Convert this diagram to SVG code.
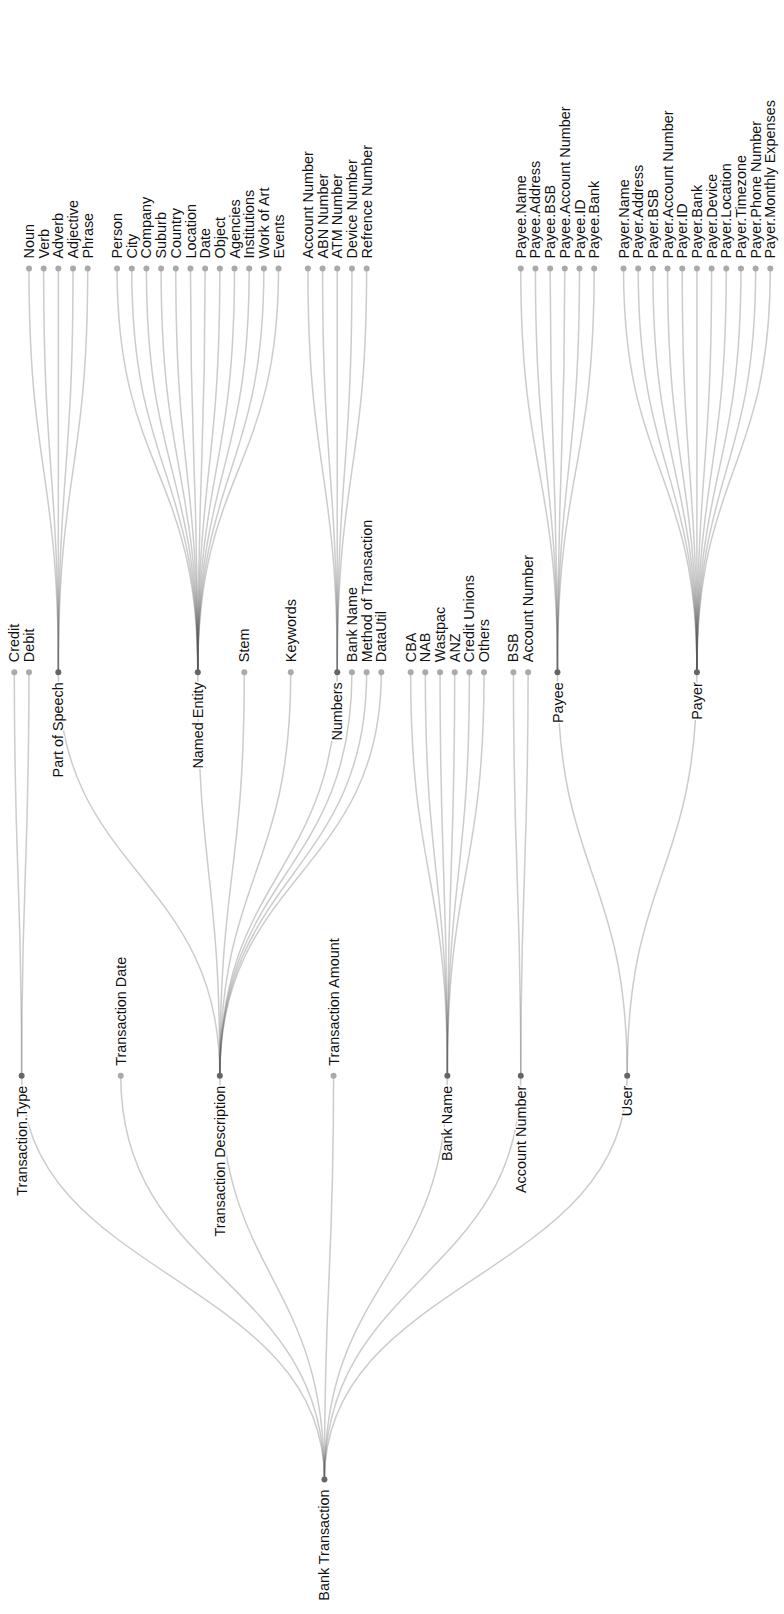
<svg xmlns="http://www.w3.org/2000/svg" width="784" height="1614" viewBox="0 0 784 1614">
<style>
.link{fill:none;stroke:#555;stroke-opacity:0.3;stroke-width:1.5}
.node circle{r:3px}
.internal circle{fill:#666}
.leaf circle{fill:#aaa}
.node text{font-family:"Liberation Sans",Arial,sans-serif;font-size:14.4px;fill:#111;stroke:#fff;stroke-width:3px;stroke-linejoin:round;paint-order:stroke}
.leaf text{text-anchor:start}
.internal text{text-anchor:end}
</style>
<rect width="784" height="1614" fill="#fff"/>
<g id="connectors">
<path class="link" d="M324.42,1479.5C324.42,1277.65 21.64,1277.65 21.64,1075.8"/>
<path class="link" d="M324.42,1479.5C324.42,1277.65 120.73,1277.65 120.73,1075.8"/>
<path class="link" d="M324.42,1479.5C324.42,1277.65 219.82,1277.65 219.82,1075.8"/>
<path class="link" d="M324.42,1479.5C324.42,1277.65 333.59,1277.65 333.59,1075.8"/>
<path class="link" d="M324.42,1479.5C324.42,1277.65 447.36,1277.65 447.36,1075.8"/>
<path class="link" d="M324.42,1479.5C324.42,1277.65 520.76,1277.65 520.76,1075.8"/>
<path class="link" d="M324.42,1479.5C324.42,1277.65 627.19,1277.65 627.19,1075.8"/>
<path class="link" d="M21.64,1075.8C21.64,874 14.3,874 14.3,672.2"/>
<path class="link" d="M21.64,1075.8C21.64,874 28.98,874 28.98,672.2"/>
<path class="link" d="M219.82,1075.8C219.82,874 58.34,874 58.34,672.2"/>
<path class="link" d="M219.82,1075.8C219.82,874 197.8,874 197.8,672.2"/>
<path class="link" d="M219.82,1075.8C219.82,874 244.29,874 244.29,672.2"/>
<path class="link" d="M219.82,1075.8C219.82,874 290.77,874 290.77,672.2"/>
<path class="link" d="M219.82,1075.8C219.82,874 337.26,874 337.26,672.2"/>
<path class="link" d="M219.82,1075.8C219.82,874 351.94,874 351.94,672.2"/>
<path class="link" d="M219.82,1075.8C219.82,874 366.62,874 366.62,672.2"/>
<path class="link" d="M219.82,1075.8C219.82,874 381.3,874 381.3,672.2"/>
<path class="link" d="M447.36,1075.8C447.36,874 410.66,874 410.66,672.2"/>
<path class="link" d="M447.36,1075.8C447.36,874 425.34,874 425.34,672.2"/>
<path class="link" d="M447.36,1075.8C447.36,874 440.02,874 440.02,672.2"/>
<path class="link" d="M447.36,1075.8C447.36,874 454.7,874 454.7,672.2"/>
<path class="link" d="M447.36,1075.8C447.36,874 469.38,874 469.38,672.2"/>
<path class="link" d="M447.36,1075.8C447.36,874 484.06,874 484.06,672.2"/>
<path class="link" d="M520.76,1075.8C520.76,874 513.42,874 513.42,672.2"/>
<path class="link" d="M520.76,1075.8C520.76,874 528.1,874 528.1,672.2"/>
<path class="link" d="M627.19,1075.8C627.19,874 557.46,874 557.46,672.2"/>
<path class="link" d="M627.19,1075.8C627.19,874 696.92,874 696.92,672.2"/>
<path class="link" d="M58.34,672.2C58.34,470.35 28.98,470.35 28.98,268.5"/>
<path class="link" d="M58.34,672.2C58.34,470.35 43.66,470.35 43.66,268.5"/>
<path class="link" d="M58.34,672.2C58.34,470.35 58.34,470.35 58.34,268.5"/>
<path class="link" d="M58.34,672.2C58.34,470.35 73.02,470.35 73.02,268.5"/>
<path class="link" d="M58.34,672.2C58.34,470.35 87.7,470.35 87.7,268.5"/>
<path class="link" d="M197.8,672.2C197.8,470.35 117.06,470.35 117.06,268.5"/>
<path class="link" d="M197.8,672.2C197.8,470.35 131.74,470.35 131.74,268.5"/>
<path class="link" d="M197.8,672.2C197.8,470.35 146.42,470.35 146.42,268.5"/>
<path class="link" d="M197.8,672.2C197.8,470.35 161.1,470.35 161.1,268.5"/>
<path class="link" d="M197.8,672.2C197.8,470.35 175.78,470.35 175.78,268.5"/>
<path class="link" d="M197.8,672.2C197.8,470.35 190.46,470.35 190.46,268.5"/>
<path class="link" d="M197.8,672.2C197.8,470.35 205.14,470.35 205.14,268.5"/>
<path class="link" d="M197.8,672.2C197.8,470.35 219.82,470.35 219.82,268.5"/>
<path class="link" d="M197.8,672.2C197.8,470.35 234.5,470.35 234.5,268.5"/>
<path class="link" d="M197.8,672.2C197.8,470.35 249.18,470.35 249.18,268.5"/>
<path class="link" d="M197.8,672.2C197.8,470.35 263.86,470.35 263.86,268.5"/>
<path class="link" d="M197.8,672.2C197.8,470.35 278.54,470.35 278.54,268.5"/>
<path class="link" d="M337.26,672.2C337.26,470.35 307.9,470.35 307.9,268.5"/>
<path class="link" d="M337.26,672.2C337.26,470.35 322.58,470.35 322.58,268.5"/>
<path class="link" d="M337.26,672.2C337.26,470.35 337.26,470.35 337.26,268.5"/>
<path class="link" d="M337.26,672.2C337.26,470.35 351.94,470.35 351.94,268.5"/>
<path class="link" d="M337.26,672.2C337.26,470.35 366.62,470.35 366.62,268.5"/>
<path class="link" d="M557.46,672.2C557.46,470.35 520.76,470.35 520.76,268.5"/>
<path class="link" d="M557.46,672.2C557.46,470.35 535.44,470.35 535.44,268.5"/>
<path class="link" d="M557.46,672.2C557.46,470.35 550.12,470.35 550.12,268.5"/>
<path class="link" d="M557.46,672.2C557.46,470.35 564.8,470.35 564.8,268.5"/>
<path class="link" d="M557.46,672.2C557.46,470.35 579.48,470.35 579.48,268.5"/>
<path class="link" d="M557.46,672.2C557.46,470.35 594.16,470.35 594.16,268.5"/>
<path class="link" d="M696.92,672.2C696.92,470.35 623.52,470.35 623.52,268.5"/>
<path class="link" d="M696.92,672.2C696.92,470.35 638.2,470.35 638.2,268.5"/>
<path class="link" d="M696.92,672.2C696.92,470.35 652.88,470.35 652.88,268.5"/>
<path class="link" d="M696.92,672.2C696.92,470.35 667.56,470.35 667.56,268.5"/>
<path class="link" d="M696.92,672.2C696.92,470.35 682.24,470.35 682.24,268.5"/>
<path class="link" d="M696.92,672.2C696.92,470.35 696.92,470.35 696.92,268.5"/>
<path class="link" d="M696.92,672.2C696.92,470.35 711.6,470.35 711.6,268.5"/>
<path class="link" d="M696.92,672.2C696.92,470.35 726.28,470.35 726.28,268.5"/>
<path class="link" d="M696.92,672.2C696.92,470.35 740.96,470.35 740.96,268.5"/>
<path class="link" d="M696.92,672.2C696.92,470.35 755.64,470.35 755.64,268.5"/>
<path class="link" d="M696.92,672.2C696.92,470.35 770.32,470.35 770.32,268.5"/>
</g>
<g id="nodes">
<g id="n-bank-transaction" class="node internal" transform="translate(324.42,1479.5)"><circle r="3"/><text x="-10" dy="0.35em" transform="rotate(-90)">Bank Transaction</text></g>
<g id="n-transaction-type" class="node internal" transform="translate(21.64,1075.8)"><circle r="3"/><text x="-10" dy="0.35em" transform="rotate(-90)">Transaction.Type</text></g>
<g id="n-transaction-date" class="node leaf" transform="translate(120.73,1075.8)"><circle r="3"/><text x="10" dy="0.35em" transform="rotate(-90)">Transaction Date</text></g>
<g id="n-transaction-description" class="node internal" transform="translate(219.82,1075.8)"><circle r="3"/><text x="-10" dy="0.35em" transform="rotate(-90)">Transaction Description</text></g>
<g id="n-transaction-amount" class="node leaf" transform="translate(333.59,1075.8)"><circle r="3"/><text x="10" dy="0.35em" transform="rotate(-90)">Transaction Amount</text></g>
<g id="n-bank-name" class="node internal" transform="translate(447.36,1075.8)"><circle r="3"/><text x="-10" dy="0.35em" transform="rotate(-90)">Bank Name</text></g>
<g id="n-account-number" class="node internal" transform="translate(520.76,1075.8)"><circle r="3"/><text x="-10" dy="0.35em" transform="rotate(-90)">Account Number</text></g>
<g id="n-user" class="node internal" transform="translate(627.19,1075.8)"><circle r="3"/><text x="-10" dy="0.35em" transform="rotate(-90)">User</text></g>
<g id="n-credit" class="node leaf" transform="translate(14.3,672.2)"><circle r="3"/><text x="10" dy="0.35em" transform="rotate(-90)">Credit</text></g>
<g id="n-debit" class="node leaf" transform="translate(28.98,672.2)"><circle r="3"/><text x="10" dy="0.35em" transform="rotate(-90)">Debit</text></g>
<g id="n-part-of-speech" class="node internal" transform="translate(58.34,672.2)"><circle r="3"/><text x="-10" dy="0.35em" transform="rotate(-90)">Part of Speech</text></g>
<g id="n-named-entity" class="node internal" transform="translate(197.8,672.2)"><circle r="3"/><text x="-10" dy="0.35em" transform="rotate(-90)">Named Entity</text></g>
<g id="n-stem" class="node leaf" transform="translate(244.29,672.2)"><circle r="3"/><text x="10" dy="0.35em" transform="rotate(-90)">Stem</text></g>
<g id="n-keywords" class="node leaf" transform="translate(290.77,672.2)"><circle r="3"/><text x="10" dy="0.35em" transform="rotate(-90)">Keywords</text></g>
<g id="n-numbers" class="node internal" transform="translate(337.26,672.2)"><circle r="3"/><text x="-10" dy="0.35em" transform="rotate(-90)">Numbers</text></g>
<g id="n-desc-bank-name" class="node leaf" transform="translate(351.94,672.2)"><circle r="3"/><text x="10" dy="0.35em" transform="rotate(-90)">Bank Name</text></g>
<g id="n-method-of-transaction" class="node leaf" transform="translate(366.62,672.2)"><circle r="3"/><text x="10" dy="0.35em" transform="rotate(-90)">Method of Transaction</text></g>
<g id="n-datautil" class="node leaf" transform="translate(381.3,672.2)"><circle r="3"/><text x="10" dy="0.35em" transform="rotate(-90)">DataUtil</text></g>
<g id="n-cba" class="node leaf" transform="translate(410.66,672.2)"><circle r="3"/><text x="10" dy="0.35em" transform="rotate(-90)">CBA</text></g>
<g id="n-nab" class="node leaf" transform="translate(425.34,672.2)"><circle r="3"/><text x="10" dy="0.35em" transform="rotate(-90)">NAB</text></g>
<g id="n-wastpac" class="node leaf" transform="translate(440.02,672.2)"><circle r="3"/><text x="10" dy="0.35em" transform="rotate(-90)">Wastpac</text></g>
<g id="n-anz" class="node leaf" transform="translate(454.7,672.2)"><circle r="3"/><text x="10" dy="0.35em" transform="rotate(-90)">ANZ</text></g>
<g id="n-credit-unions" class="node leaf" transform="translate(469.38,672.2)"><circle r="3"/><text x="10" dy="0.35em" transform="rotate(-90)">Credit Unions</text></g>
<g id="n-others" class="node leaf" transform="translate(484.06,672.2)"><circle r="3"/><text x="10" dy="0.35em" transform="rotate(-90)">Others</text></g>
<g id="n-bsb" class="node leaf" transform="translate(513.42,672.2)"><circle r="3"/><text x="10" dy="0.35em" transform="rotate(-90)">BSB</text></g>
<g id="n-acct-account-number" class="node leaf" transform="translate(528.1,672.2)"><circle r="3"/><text x="10" dy="0.35em" transform="rotate(-90)">Account Number</text></g>
<g id="n-payee" class="node internal" transform="translate(557.46,672.2)"><circle r="3"/><text x="-10" dy="0.35em" transform="rotate(-90)">Payee</text></g>
<g id="n-payer" class="node internal" transform="translate(696.92,672.2)"><circle r="3"/><text x="-10" dy="0.35em" transform="rotate(-90)">Payer</text></g>
<g id="n-noun" class="node leaf" transform="translate(28.98,268.5)"><circle r="3"/><text x="10" dy="0.35em" transform="rotate(-90)">Noun</text></g>
<g id="n-verb" class="node leaf" transform="translate(43.66,268.5)"><circle r="3"/><text x="10" dy="0.35em" transform="rotate(-90)">Verb</text></g>
<g id="n-adverb" class="node leaf" transform="translate(58.34,268.5)"><circle r="3"/><text x="10" dy="0.35em" transform="rotate(-90)">Adverb</text></g>
<g id="n-adjective" class="node leaf" transform="translate(73.02,268.5)"><circle r="3"/><text x="10" dy="0.35em" transform="rotate(-90)">Adjective</text></g>
<g id="n-phrase" class="node leaf" transform="translate(87.7,268.5)"><circle r="3"/><text x="10" dy="0.35em" transform="rotate(-90)">Phrase</text></g>
<g id="n-person" class="node leaf" transform="translate(117.06,268.5)"><circle r="3"/><text x="10" dy="0.35em" transform="rotate(-90)">Person</text></g>
<g id="n-city" class="node leaf" transform="translate(131.74,268.5)"><circle r="3"/><text x="10" dy="0.35em" transform="rotate(-90)">City</text></g>
<g id="n-company" class="node leaf" transform="translate(146.42,268.5)"><circle r="3"/><text x="10" dy="0.35em" transform="rotate(-90)">Company</text></g>
<g id="n-suburb" class="node leaf" transform="translate(161.1,268.5)"><circle r="3"/><text x="10" dy="0.35em" transform="rotate(-90)">Suburb</text></g>
<g id="n-country" class="node leaf" transform="translate(175.78,268.5)"><circle r="3"/><text x="10" dy="0.35em" transform="rotate(-90)">Country</text></g>
<g id="n-location" class="node leaf" transform="translate(190.46,268.5)"><circle r="3"/><text x="10" dy="0.35em" transform="rotate(-90)">Location</text></g>
<g id="n-date" class="node leaf" transform="translate(205.14,268.5)"><circle r="3"/><text x="10" dy="0.35em" transform="rotate(-90)">Date</text></g>
<g id="n-object" class="node leaf" transform="translate(219.82,268.5)"><circle r="3"/><text x="10" dy="0.35em" transform="rotate(-90)">Object</text></g>
<g id="n-agencies" class="node leaf" transform="translate(234.5,268.5)"><circle r="3"/><text x="10" dy="0.35em" transform="rotate(-90)">Agencies</text></g>
<g id="n-institutions" class="node leaf" transform="translate(249.18,268.5)"><circle r="3"/><text x="10" dy="0.35em" transform="rotate(-90)">Institutions</text></g>
<g id="n-work-of-art" class="node leaf" transform="translate(263.86,268.5)"><circle r="3"/><text x="10" dy="0.35em" transform="rotate(-90)">Work of Art</text></g>
<g id="n-events" class="node leaf" transform="translate(278.54,268.5)"><circle r="3"/><text x="10" dy="0.35em" transform="rotate(-90)">Events</text></g>
<g id="n-num-account-number" class="node leaf" transform="translate(307.9,268.5)"><circle r="3"/><text x="10" dy="0.35em" transform="rotate(-90)">Account Number</text></g>
<g id="n-abn-number" class="node leaf" transform="translate(322.58,268.5)"><circle r="3"/><text x="10" dy="0.35em" transform="rotate(-90)">ABN Number</text></g>
<g id="n-atm-number" class="node leaf" transform="translate(337.26,268.5)"><circle r="3"/><text x="10" dy="0.35em" transform="rotate(-90)">ATM Number</text></g>
<g id="n-device-number" class="node leaf" transform="translate(351.94,268.5)"><circle r="3"/><text x="10" dy="0.35em" transform="rotate(-90)">Device Number</text></g>
<g id="n-refrence-number" class="node leaf" transform="translate(366.62,268.5)"><circle r="3"/><text x="10" dy="0.35em" transform="rotate(-90)">Refrence Number</text></g>
<g id="n-payee-name" class="node leaf" transform="translate(520.76,268.5)"><circle r="3"/><text x="10" dy="0.35em" transform="rotate(-90)">Payee.Name</text></g>
<g id="n-payee-address" class="node leaf" transform="translate(535.44,268.5)"><circle r="3"/><text x="10" dy="0.35em" transform="rotate(-90)">Payee.Address</text></g>
<g id="n-payee-bsb" class="node leaf" transform="translate(550.12,268.5)"><circle r="3"/><text x="10" dy="0.35em" transform="rotate(-90)">Payee.BSB</text></g>
<g id="n-payee-account-number" class="node leaf" transform="translate(564.8,268.5)"><circle r="3"/><text x="10" dy="0.35em" transform="rotate(-90)">Payee.Account Number</text></g>
<g id="n-payee-id" class="node leaf" transform="translate(579.48,268.5)"><circle r="3"/><text x="10" dy="0.35em" transform="rotate(-90)">Payee.ID</text></g>
<g id="n-payee-bank" class="node leaf" transform="translate(594.16,268.5)"><circle r="3"/><text x="10" dy="0.35em" transform="rotate(-90)">Payee.Bank</text></g>
<g id="n-payer-name" class="node leaf" transform="translate(623.52,268.5)"><circle r="3"/><text x="10" dy="0.35em" transform="rotate(-90)">Payer.Name</text></g>
<g id="n-payer-address" class="node leaf" transform="translate(638.2,268.5)"><circle r="3"/><text x="10" dy="0.35em" transform="rotate(-90)">Payer.Address</text></g>
<g id="n-payer-bsb" class="node leaf" transform="translate(652.88,268.5)"><circle r="3"/><text x="10" dy="0.35em" transform="rotate(-90)">Payer.BSB</text></g>
<g id="n-payer-account-number" class="node leaf" transform="translate(667.56,268.5)"><circle r="3"/><text x="10" dy="0.35em" transform="rotate(-90)">Payer.Account Number</text></g>
<g id="n-payer-id" class="node leaf" transform="translate(682.24,268.5)"><circle r="3"/><text x="10" dy="0.35em" transform="rotate(-90)">Payer.ID</text></g>
<g id="n-payer-bank" class="node leaf" transform="translate(696.92,268.5)"><circle r="3"/><text x="10" dy="0.35em" transform="rotate(-90)">Payer.Bank</text></g>
<g id="n-payer-device" class="node leaf" transform="translate(711.6,268.5)"><circle r="3"/><text x="10" dy="0.35em" transform="rotate(-90)">Payer.Device</text></g>
<g id="n-payer-location" class="node leaf" transform="translate(726.28,268.5)"><circle r="3"/><text x="10" dy="0.35em" transform="rotate(-90)">Payer.Location</text></g>
<g id="n-payer-timezone" class="node leaf" transform="translate(740.96,268.5)"><circle r="3"/><text x="10" dy="0.35em" transform="rotate(-90)">Payer.Timezone</text></g>
<g id="n-payer-phone-number" class="node leaf" transform="translate(755.64,268.5)"><circle r="3"/><text x="10" dy="0.35em" transform="rotate(-90)">Payer.Phone Number</text></g>
<g id="n-payer-monthly-expenses" class="node leaf" transform="translate(770.32,268.5)"><circle r="3"/><text x="10" dy="0.35em" transform="rotate(-90)">Payer.Monthly Expenses</text></g>
</g>
</svg>
